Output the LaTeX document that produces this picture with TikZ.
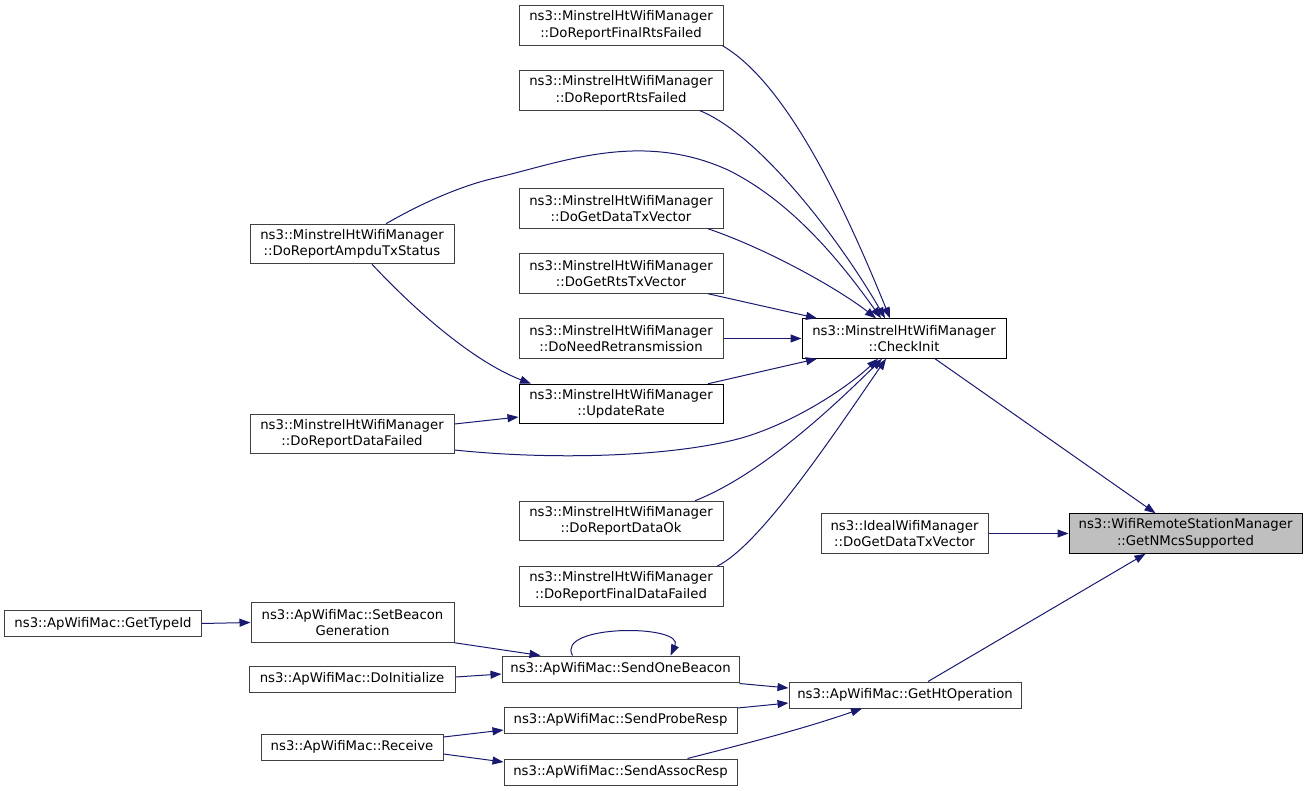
\documentclass[tikz,border=0pt]{standalone}
\usepackage{fontspec}
\setmainfont{DejaVu Sans}
\usetikzlibrary{arrows.meta}
\definecolor{edgeblue}{HTML}{191970}
\definecolor{boxgray}{HTML}{404040}
\begin{document}
\begin{tikzpicture}[x=1bp,y=-1bp,
  box/.style={draw=boxgray, line width=1bp, fill=white, inner sep=0pt, align=center,
    minimum width=204bp, minimum height=39.5bp,
    font=\fontsize{13.3}{16.5}\selectfont},
  boxone/.style={box, minimum height=26bp},
  edge/.style={draw=edgeblue, line width=1bp, -{Triangle[length=11bp,width=8bp]}}
]
\useasboundingbox (0,0) rectangle (1308,790);

% Minstrel nodes
\node[box] (frts) at (621,25.5) {ns3::MinstrelHtWifiManager\\::DoReportFinalRtsFailed};
\node[box] (rts) at (621,90.5) {ns3::MinstrelHtWifiManager\\::DoReportRtsFailed};
\node[box] (ampdu) at (352,244) {ns3::MinstrelHtWifiManager\\::DoReportAmpduTxStatus};
\node[box] (gdtx) at (621,208.5) {ns3::MinstrelHtWifiManager\\::DoGetDataTxVector};
\node[box] (grtx) at (621,273.5) {ns3::MinstrelHtWifiManager\\::DoGetRtsTxVector};
\node[box] (nret) at (621,338.5) {ns3::MinstrelHtWifiManager\\::DoNeedRetransmission};
\node[box, draw=black] (ci) at (904,338.5) {ns3::MinstrelHtWifiManager\\::CheckInit};
\node[box, draw=black] (ur) at (621,404) {ns3::MinstrelHtWifiManager\\::UpdateRate};
\node[box] (dfail) at (352,434) {ns3::MinstrelHtWifiManager\\::DoReportDataFailed};
\node[box] (dok) at (621,521) {ns3::MinstrelHtWifiManager\\::DoReportDataOk};
\node[box] (fdf) at (621,586.5) {ns3::MinstrelHtWifiManager\\::DoReportFinalDataFailed};
\node[box, minimum width=167bp] (ideal) at (904.5,533.5) {ns3::IdealWifiManager\\::DoGetDataTxVector};
\node[box, draw=black, fill={rgb,255:red,191;green,191;blue,191}, minimum width=233bp] (gn) at (1185.5,533.5) {ns3::WifiRemoteStationManager\\::GetNMcsSupported};

% ApWifiMac nodes
\node[boxone, minimum width=196bp] (gt) at (103,623.5) {ns3::ApWifiMac::GetTypeId};
\node[box, minimum width=203bp] (sb) at (352.5,622.5) {ns3::ApWifiMac::SetBeacon\\Generation};
\node[boxone, minimum width=206bp] (di) at (352,679) {ns3::ApWifiMac::DoInitialize};
\node[boxone, minimum width=237bp] (so) at (620.5,669) {ns3::ApWifiMac::SendOneBeacon};
\node[boxone, minimum width=232bp] (gh) at (905,695) {ns3::ApWifiMac::GetHtOperation};
\node[boxone, minimum width=182bp] (rc) at (352,747) {ns3::ApWifiMac::Receive};
\node[boxone, minimum width=233bp] (sp) at (620.5,720) {ns3::ApWifiMac::SendProbeResp};
\node[boxone, minimum width=233bp] (sa) at (620.5,772) {ns3::ApWifiMac::SendAssocResp};

% edges to CheckInit
\draw[edge] ([xshift=-1bp]frts.south east) .. controls (790,85) and (850,220) .. ([xshift=-14bp]ci.north);
\draw[edge] ([xshift=79bp]rts.south) .. controls (760,135) and (840,240) .. ([xshift=-19bp]ci.north);
\draw[edge] ([xshift=34bp]ampdu.north) .. controls (420,204) and (460,186) .. (495,178)
   .. controls (560,163) and (640,130) .. (728,170) .. controls (795,203) and (845,268) .. ([xshift=-23bp]ci.north);
\draw[edge] ([xshift=20bp]ampdu.south) .. controls (410,305) and (470,360) .. ([xshift=-90bp]ur.north);
\draw[edge] ([xshift=87bp]gdtx.south) .. controls (770,250) and (840,290) .. ([xshift=-28bp]ci.north);
\draw[edge] ([xshift=87bp]grtx.south) -- ([xshift=-87bp]ci.north);
\draw[edge] (nret.east) -- (ci.west);
\draw[edge] ([xshift=87bp]ur.north) -- ([xshift=-87bp]ci.south);
\draw[edge] ([yshift=10bp]dfail.east) -- ([yshift=-13bp]ur.west);
\draw[edge] ([yshift=-16bp]dfail.east) .. controls (560,461) and (680,456) .. (745,437)
   .. controls (800,420) and (850,385) .. ([xshift=-26bp]ci.south);
\draw[edge] ([xshift=74bp]dok.north) .. controls (760,475) and (830,410) .. ([xshift=-22bp]ci.south);
\draw[edge] ([xshift=96bp]fdf.north) .. controls (760,545) and (830,440) .. ([xshift=-18bp]ci.south);

% edges to GetNMcsSupported
\draw[edge] ([xshift=31bp]ci.south) -- ([xshift=-30bp]gn.north);
\draw[edge] (ideal.east) -- (gn.west);
\draw[edge] ([xshift=23bp]gh.north) -- ([xshift=-40bp]gn.south);

% ApWifiMac edges
\draw[edge] (gt.east) -- (sb.west);
\draw[edge] (sb.south east) -- ([xshift=-80bp]so.north);
\draw[edge] ([xshift=-48bp]so.north) .. controls (555,624) and (685,624) .. ([xshift=50bp]so.north);
\draw[edge] ([yshift=2bp]di.east) -- ([yshift=-5bp]so.west);
\draw[edge] ([yshift=-1bp]so.south east) -- ([yshift=7bp]gh.west);
\draw[edge] ([yshift=12bp]sp.east) -- ([yshift=-8bp]gh.west);
\draw[edge] ([xshift=67bp]sa.north) .. controls (740,745) and (800,730) .. ([xshift=-43bp]gh.south);
\draw[edge] ([yshift=10bp]rc.east) -- ([yshift=-10bp]sp.west);
\draw[edge] ([yshift=-7bp]rc.east) -- ([yshift=10bp]sa.west);
\end{tikzpicture}
\end{document}
